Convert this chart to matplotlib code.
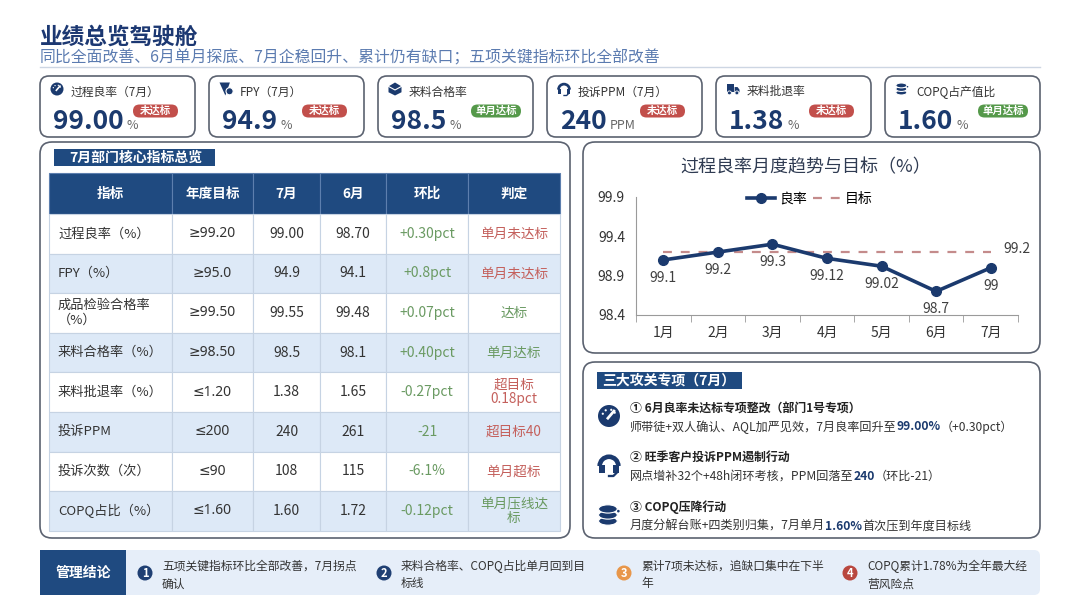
import matplotlib
matplotlib.use("Agg")
import matplotlib.pyplot as plt
from matplotlib.patches import FancyBboxPatch, Rectangle, Circle, Polygon, Ellipse, Arc
import numpy as np

plt.rcParams['font.family'] = ['Noto Sans CJK SC', 'DejaVu Sans']

# ---- 数据 ----
months = ['1月', '2月', '3月', '4月', '5月', '6月', '7月']
yield_rate = [99.1, 99.2, 99.3, 99.12, 99.02, 98.7, 99.0]
yield_target = 99.2
yticks = [98.4, 98.9, 99.4, 99.9]

kpi_names = ['过程良率（7月）', 'FPY（7月）', '来料合格率', '投诉PPM（7月）', '来料批退率', 'COPQ占产值比']
kpi_values = ['99.00', '94.9', '98.5', '240', '1.38', '1.60']
kpi_units = ['%', '%', '%', 'PPM', '%', '%']
kpi_status = ['未达标', '未达标', '单月达标', '未达标', '未达标', '单月达标']
kpi_icons = ['gauge', 'funnel', 'box', 'headset', 'truck', 'coins']

table_header = ['指标', '年度目标', '7月', '6月', '环比', '判定']
metric_names = ['过程良率（%）', 'FPY（%）', '成品检验合格率\n（%）', '来料合格率（%）',
                '来料批退率（%）', '投诉PPM', '投诉次数（次）', 'COPQ占比（%）']
annual_targets = ['≥99.20', '≥95.0', '≥99.50', '≥98.50', '≤1.20', '≤200', '≤90', '≤1.60']
jul_vals = ['99.00', '94.9', '99.55', '98.5', '1.38', '240', '108', '1.60']
jun_vals = ['98.70', '94.1', '99.48', '98.1', '1.65', '261', '115', '1.72']
mom_change = ['+0.30pct', '+0.8pct', '+0.07pct', '+0.40pct', '-0.27pct', '-21', '-6.1%', '-0.12pct']
verdicts = ['单月未达标', '单月未达标', '达标', '单月达标', '超目标\n0.18pct', '超目标40', '单月超标', '单月压线达\n标']
verdict_ok = [False, False, True, True, False, False, False, True]

projects = [
    ('① 6月良率未达标专项整改（部门1号专项）',
     ['师带徒+双人确认、AQL加严见效，7月良率回升至', '99.00%', '（+0.30pct）']),
    ('② 旺季客户投诉PPM遏制行动',
     ['网点增补32个+48h闭环考核，PPM回落至', '240', '（环比-21）']),
    ('③ COPQ压降行动',
     ['月度分解台账+四类别归集，7月单月', '1.60%', '首次压到年度目标线']),
]
project_icons = ['gauge', 'headset', 'coins']

conclusions = ['五项关键指标环比全部改善，7月拐点\n确认',
               '来料合格率、COPQ占比单月回到目\n标线',
               '累计7项未达标，追缺口集中在下半\n年',
               'COPQ累计1.78%为全年最大经\n营风险点']
conclusion_colors = ['#1f3f73', '#1f3f73', '#e8964a', '#b9473f']

# ---- 颜色 ----
NAVY = '#1b3a6e'
HEAD = '#1f4a80'
RED = '#c24f4b'
GREEN = '#55994a'
TXT = '#333333'
NUMFONT = ['Noto Sans', 'DejaVu Sans']

fig = plt.figure(figsize=(10.8, 6.08), dpi=100)
ax = fig.add_axes([0, 0, 1, 1])
ax.set_xlim(0, 1080)
ax.set_ylim(608, 0)
ax.axis('off')
renderer = fig.canvas.get_renderer()


def rbox(x, y, w, h, r=8, fc='white', ec='none', lw=1.0, z=1):
    ax.add_patch(FancyBboxPatch((x, y), w, h, boxstyle=f'round,pad=0,rounding_size={r}',
                                fc=fc, ec=ec, lw=lw, zorder=z))


def draw_icon(kind, cx, cy, r, c=NAVY):
    if kind == 'gauge':
        ax.add_patch(Circle((cx, cy), r, fc=c, ec='none', zorder=5))
        ax.plot([cx - 0.1 * r, cx + 0.45 * r], [cy + 0.2 * r, cy - 0.45 * r], color='white', lw=r * 0.18, zorder=6)
        for a in [200, 240, 290, 330]:
            t = np.deg2rad(a)
            ax.add_patch(Circle((cx + 0.6 * r * np.cos(t), cy + 0.6 * r * np.sin(t)), r * 0.1, fc='white', zorder=6))
    elif kind == 'funnel':
        ax.add_patch(Polygon([(cx - r, cy - r), (cx + r * 0.6, cy - r), (cx - 0.1 * r, cy + r)], fc=c, zorder=5))
        ax.add_patch(Circle((cx + 0.55 * r, cy + 0.35 * r), 0.55 * r, fc=c, ec='white', lw=0.8, zorder=6))
    elif kind == 'box':
        ax.add_patch(Polygon([(cx, cy - r), (cx + r, cy - 0.4 * r), (cx + r, cy + 0.5 * r),
                              (cx, cy + r), (cx - r, cy + 0.5 * r), (cx - r, cy - 0.4 * r)], fc=c, zorder=5))
        ax.plot([cx - r, cx, cx + r], [cy - 0.4 * r, cy + 0.15 * r, cy - 0.4 * r], color='white', lw=0.8, zorder=6)
    elif kind == 'headset':
        ax.add_patch(Arc((cx, cy + 0.1 * r), 1.7 * r, 1.7 * r, theta1=180, theta2=360, color=c, lw=r * 0.3, zorder=5))
        ax.add_patch(Rectangle((cx - 0.95 * r, cy), 0.55 * r, 0.75 * r, fc=c, zorder=5))
        ax.add_patch(Rectangle((cx + 0.4 * r, cy), 0.55 * r, 0.75 * r, fc=c, zorder=5))
        ax.plot([cx + 0.7 * r, cx + 0.4 * r, cx], [cy + 0.7 * r, cy + r, cy + r], color=c, lw=r * 0.15, zorder=5)
    elif kind == 'truck':
        ax.add_patch(Rectangle((cx - r, cy - 0.7 * r), 1.2 * r, 1.2 * r, fc=c, zorder=5))
        ax.add_patch(Polygon([(cx + 0.25 * r, cy - 0.3 * r), (cx + 0.7 * r, cy - 0.3 * r), (cx + r, cy + 0.1 * r),
                              (cx + r, cy + 0.5 * r), (cx + 0.25 * r, cy + 0.5 * r)], fc=c, zorder=5))
        for wx in [cx - 0.55 * r, cx + 0.6 * r]:
            ax.add_patch(Circle((wx, cy + 0.6 * r), 0.3 * r, fc=c, ec='white', lw=0.6, zorder=6))
    elif kind == 'coins':
        for k, dy in enumerate([0.55, 0.0, -0.55]):
            ax.add_patch(Ellipse((cx - 0.1 * r, cy + dy * r), 1.7 * r, 0.75 * r, fc=c, ec='white', lw=0.8, zorder=5 + k))
        ax.add_patch(Circle((cx + 0.85 * r, cy - 0.35 * r), 0.12 * r, fc=c, zorder=8))


# ---- 标题 ----
ax.text(40, 37, '业绩总览驾驶舱', fontsize=16.3, fontweight='bold', color='#1c3872', va='center')
ax.text(40, 58, '同比全面改善、6月单月探底、7月企稳回升、累计仍有缺口；五项关键指标环比全部改善',
        fontsize=11.4, color='#5b7bb0', va='center')
ax.plot([40, 1040], [67, 67], color='#cdd6e3', lw=1)

# ---- KPI 卡片 ----
card_w, card_step = 155, 169
for i in range(len(kpi_names)):
    x0 = 40 + i * card_step
    rbox(x0, 76, card_w, 61, r=9, ec='#5b6270', lw=1.2)
    draw_icon(kpi_icons[i], x0 + 17, 89, 6.5)
    ax.text(x0 + 31, 92, kpi_names[i], fontsize=8.5, color=TXT, va='center')
    t = ax.text(x0 + 13, 129, kpi_values[i], fontsize=19, fontweight='bold', color=NAVY, va='baseline')
    bb = t.get_window_extent(renderer).transformed(ax.transData.inverted())
    ax.text(bb.x1 + 3, 129, kpi_units[i], fontsize=9, color='#666666', va='baseline')
    bc = GREEN if kpi_status[i] == '单月达标' else RED
    bw = 45 if bc == RED else 50
    rbox(x0 + 93, 104.5, bw, 13, r=6.5, fc=bc, z=3)
    ax.text(x0 + 93 + bw / 2, 111, kpi_status[i], fontsize=7.5, fontweight='bold',
            color='white', ha='center', va='center', zorder=4)

# ---- 左侧表格 ----
rbox(40, 142, 530, 396, r=12, ec='#5b6270', lw=1.2)
ax.add_patch(Rectangle((54, 149), 161, 17, fc=HEAD, zorder=2))
ax.text(136, 157.5, '7月部门核心指标总览', fontsize=10, fontweight='bold', color='white', ha='center', va='center', zorder=3)

col_edges = [49, 172, 253, 320, 386, 468, 560]
head_top, head_bot, row_h = 173, 214, 39.6
for j, h in enumerate(table_header):
    ax.add_patch(Rectangle((col_edges[j], head_top), col_edges[j + 1] - col_edges[j], head_bot - head_top,
                           fc=HEAD, ec='#5d7fae', lw=0.8, zorder=2))
    ax.text((col_edges[j] + col_edges[j + 1]) / 2, (head_top + head_bot) / 2, h, fontsize=9.8,
            fontweight='bold', color='white', ha='center', va='center', zorder=3)

for r in range(len(metric_names)):
    y0 = head_bot + r * row_h
    yc = y0 + row_h / 2
    fc = 'white' if r % 2 == 0 else '#dde9f7'
    for j in range(6):
        ax.add_patch(Rectangle((col_edges[j], y0), col_edges[j + 1] - col_edges[j], row_h,
                               fc=fc, ec='#c6d3e3', lw=0.8, zorder=2))
    cx = [(col_edges[j] + col_edges[j + 1]) / 2 for j in range(6)]
    ax.text(58, yc, metric_names[r], fontsize=9.5, color=TXT, va='center', zorder=3, linespacing=1.15)
    ax.text(cx[1], yc, annual_targets[r], fontsize=10, color=TXT, ha='center', va='center', zorder=3,
            family=NUMFONT)
    ax.text(cx[2], yc, jul_vals[r], fontsize=10, color=TXT, ha='center', va='center', zorder=3)
    ax.text(cx[3], yc, jun_vals[r], fontsize=10, color=TXT, ha='center', va='center', zorder=3)
    ax.text(cx[4], yc, mom_change[r], fontsize=10, color='#6a9a62', ha='center', va='center', zorder=3)
    ax.text(cx[5], yc, verdicts[r], fontsize=9.8, color='#6a9a62' if verdict_ok[r] else '#c4605c',
            ha='center', va='center', zorder=3, linespacing=1.05)

# ---- 右上折线图 ----
rbox(583, 142, 457, 211, r=12, ec='#5b6270', lw=1.2)
ax.text(806, 167, '过程良率月度趋势与目标（%）', fontsize=13, color='#2f3b52', ha='center', va='center')

ax2 = fig.add_axes([636 / 1080, 1 - 315 / 608, 382 / 1080, 118 / 608])
xs = np.arange(len(months))
ax2.plot(xs, yield_rate, color=NAVY, lw=2.6, marker='o', ms=7, label='良率', zorder=3)
ax2.plot(xs, [yield_target] * len(xs), color='#c48b8b', lw=1.6, ls=(0, (4, 4)), label='目标', zorder=2)
for i, v in enumerate(yield_rate):
    ax2.annotate(f'{v:g}', (xs[i], v), xytext=(0, -13), textcoords='offset points',
                 ha='center', va='center', fontsize=10, color='#404040')
ax2.annotate(f'{yield_target:g}', (xs[-1], yield_target), xytext=(9, 2), textcoords='offset points',
             ha='left', va='center', fontsize=10, color='#404040', annotation_clip=False)
ax2.set_xlim(-0.5, len(months) - 0.5)
ax2.set_ylim(yticks[0], yticks[-1])
ax2.set_yticks(yticks)
ax2.set_yticklabels([f'{t:.1f}' for t in yticks])
ax2.set_xticks(xs)
ax2.set_xticklabels(months)
ax2.set_xticks(np.arange(-0.5, len(months), 1), minor=True)
ax2.tick_params(axis='x', which='major', length=0, labelsize=10, labelcolor='#333333', pad=8)
ax2.tick_params(axis='x', which='minor', length=5, color='#999999')
ax2.tick_params(axis='y', length=0, labelsize=10, labelcolor='#333333', pad=8)
for s in ['top', 'right']:
    ax2.spines[s].set_visible(False)
for s in ['left', 'bottom']:
    ax2.spines[s].set_color('#9a9a9a')
ax2.patch.set_alpha(0)
ax2.legend(loc='center', bbox_to_anchor=(0.455, 0.985), ncol=2, frameon=False, fontsize=10,
           handlelength=2.0, handletextpad=0.3, columnspacing=0.4)

# ---- 右下三大攻关 ----
rbox(583, 362, 457, 176, r=12, ec='#5b6270', lw=1.2)
ax.add_patch(Rectangle((597, 372), 145, 17, fc=HEAD, zorder=2))
ax.text(669, 380.5, '三大攻关专项（7月）', fontsize=10, fontweight='bold', color='white', ha='center', va='center', zorder=3)

proj_y = [408, 457, 507]
for k, (title, desc) in enumerate(projects):
    yt = proj_y[k]
    draw_icon(project_icons[k], 609, yt + 8, 11)
    ax.text(630, yt, title, fontsize=8.6, fontweight='bold', color='#222222', va='center')
    xx = 630
    for n, part in enumerate(desc):
        bold = (n == 1)
        t = ax.text(xx, yt + 19, part, fontsize=8.7, color=NAVY if bold else TXT,
                    fontweight='bold' if bold else 'normal', va='center')
        xx = t.get_window_extent(renderer).transformed(ax.transData.inverted()).x1

# ---- 底部管理结论 ----
rbox(40, 550, 1000, 45, r=6, fc='#e6eef9', z=1)
ax.add_patch(Rectangle((40, 550), 86, 45, fc=HEAD, zorder=2))
ax.text(83, 572.5, '管理结论', fontsize=10, fontweight='bold', color='white', ha='center', va='center', zorder=3)
circ_x = [145, 384, 624, 850]
for k, txt in enumerate(conclusions):
    ax.add_patch(Circle((circ_x[k], 573), 7.5, fc=conclusion_colors[k], zorder=3))
    ax.text(circ_x[k], 573.5, str(k + 1), fontsize=8, fontweight='bold', color='white', ha='center', va='center', zorder=4)
    for m, line in enumerate(txt.split('\n')):
        ax.text(circ_x[k] + 17, 566 + m * 18, line, fontsize=8.5, color=TXT, va='center', zorder=3)

fig.savefig('out.png', dpi=100, facecolor='white')
